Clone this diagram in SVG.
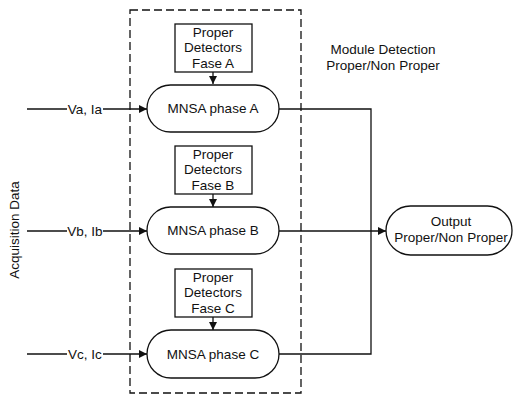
<svg xmlns="http://www.w3.org/2000/svg" width="514" height="397" viewBox="0 0 514 397">
  <style>
    text { font-family: "Liberation Sans", Arial, sans-serif; font-size: 13.5px; fill: #111; }
    .mid { text-anchor: middle; }
    .shape { fill: #fff; stroke: #111; stroke-width: 1.3; }
    .wire { fill: none; stroke: #111; stroke-width: 1.3; }
    .frame { fill: none; stroke: #111; stroke-width: 1.3; stroke-dasharray: 8 4; }
  </style>
  <defs>
    <marker id="arrow" viewBox="0 0 10 10" refX="10" refY="5" markerWidth="8" markerHeight="8" markerUnits="userSpaceOnUse" orient="auto">
      <path d="M0,0 L10,5 L0,10 Z" fill="#111"/>
    </marker>
  </defs>

  <rect fill="#fff" x="0" y="0" width="514" height="397"/>

  <!-- module frame -->
  <g id="module">
    <rect class="frame" x="130" y="10" width="171" height="383"/>
    <text class="mid" x="383" y="54">Module Detection</text>
    <text class="mid" x="383" y="70">Proper/Non Proper</text>
  </g>

  <text class="mid" transform="translate(19,230) rotate(-90)">Acquisition Data</text>

  <!-- connectors -->
  <g id="connectors">
    <line class="wire" x1="27" y1="109" x2="67" y2="109"/>
    <line class="wire" x1="103" y1="109" x2="147" y2="109" marker-end="url(#arrow)"/>
    <line class="wire" x1="27" y1="231" x2="67" y2="231"/>
    <line class="wire" x1="103" y1="231" x2="147" y2="231" marker-end="url(#arrow)"/>
    <line class="wire" x1="27" y1="354" x2="67" y2="354"/>
    <line class="wire" x1="103" y1="354" x2="147" y2="354" marker-end="url(#arrow)"/>

    <line class="wire" x1="213" y1="72" x2="213" y2="84" marker-end="url(#arrow)"/>
    <line class="wire" x1="213" y1="194" x2="213" y2="207" marker-end="url(#arrow)"/>
    <line class="wire" x1="213" y1="317" x2="213" y2="330" marker-end="url(#arrow)"/>

    <polyline class="wire" points="279,109 371,109 371,354 279,354"/>
    <line class="wire" x1="279" y1="231" x2="386" y2="231" marker-end="url(#arrow)"/>
  </g>

  <!-- input labels -->
  <text class="mid" x="85" y="114">Va, Ia</text>
  <text class="mid" x="85" y="236">Vb, Ib</text>
  <text class="mid" x="85" y="359">Vc, Ic</text>

  <!-- detectors -->
  <g id="detA">
    <rect class="shape" x="175" y="24" width="77" height="48"/>
    <text class="mid" x="213" y="37">Proper</text>
    <text class="mid" x="213" y="52">Detectors</text>
    <text class="mid" x="213" y="68">Fase A</text>
  </g>
  <g id="detB">
    <rect class="shape" x="175" y="146" width="77" height="48"/>
    <text class="mid" x="213" y="159">Proper</text>
    <text class="mid" x="213" y="174">Detectors</text>
    <text class="mid" x="213" y="190">Fase B</text>
  </g>
  <g id="detC">
    <rect class="shape" x="175" y="269" width="77" height="48"/>
    <text class="mid" x="213" y="282">Proper</text>
    <text class="mid" x="213" y="297">Detectors</text>
    <text class="mid" x="213" y="313">Fase C</text>
  </g>

  <!-- MNSA pills -->
  <g id="mnsaA">
    <rect class="shape" x="147" y="85" width="132" height="47" rx="23.5"/>
    <text class="mid" x="213" y="113">MNSA phase A</text>
  </g>
  <g id="mnsaB">
    <rect class="shape" x="147" y="207" width="132" height="47" rx="23.5"/>
    <text class="mid" x="213" y="235">MNSA phase B</text>
  </g>
  <g id="mnsaC">
    <rect class="shape" x="147" y="330" width="132" height="48" rx="24"/>
    <text class="mid" x="213" y="359">MNSA phase C</text>
  </g>

  <!-- output -->
  <g id="output">
    <rect class="shape" x="386" y="206" width="126" height="49" rx="24.5"/>
    <text class="mid" x="451" y="226">Output</text>
    <text class="mid" x="451" y="242">Proper/Non Proper</text>
  </g>
</svg>
